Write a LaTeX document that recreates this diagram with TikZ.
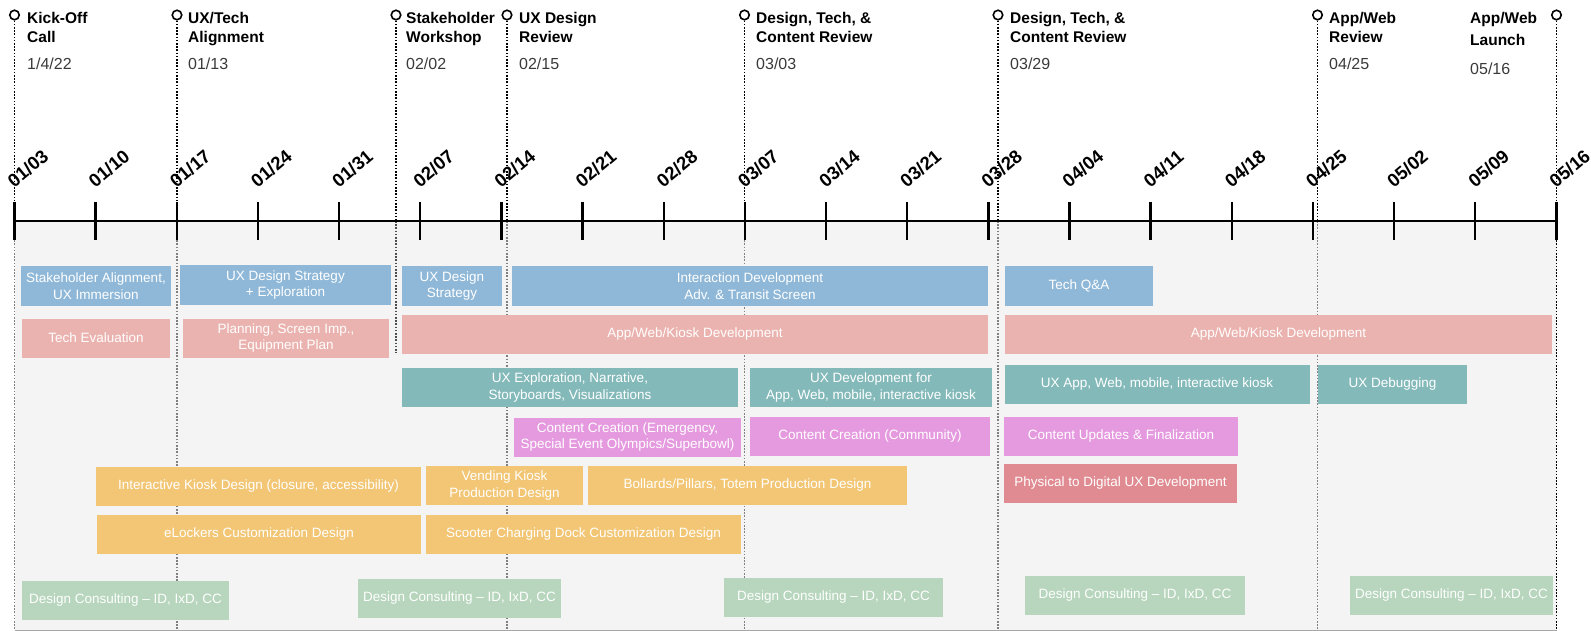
\documentclass[tikz,border=0pt]{standalone}
\usepackage{fontspec}
\setmainfont{Liberation Sans}

\definecolor{chartbg}{HTML}{F4F4F4}
\definecolor{uxblue}{HTML}{8FB8D8}
\definecolor{devsalmon}{HTML}{EBB3AF}
\definecolor{uxteal}{HTML}{84B9BA}
\definecolor{contentpink}{HTML}{E59ADF}
\definecolor{prodamber}{HTML}{F2C674}
\definecolor{physrose}{HTML}{E08A91}
\definecolor{consultsage}{HTML}{B7D6BD}
\definecolor{datecol}{HTML}{3A3A3A}

\tikzset{
  task/.style={fill=#1, text=white, align=center, inner sep=0pt, minimum height=39,
    font=\fontsize{13.5}{16.5}\selectfont},
  pin/.style={circle, draw=black, line width=1.6, fill=white, minimum size=9.5, inner sep=0pt},
  mtitle/.style={anchor=north west, align=left, inner sep=0pt,
    font=\fontsize{15.5}{19}\selectfont\bfseries},
  mdate/.style={anchor=base west, inner sep=0pt, text=datecol,
    font=\fontsize{16}{19}\selectfont},
  weeklabel/.style={anchor=south west, rotate=40, inner sep=0pt,
    font=\fontsize{18.5}{18.5}\selectfont\bfseries},
  dotline/.style={line width=1.6, dash pattern=on 1.6pt off 1.6pt},
}

\begin{document}
\begin{tikzpicture}[x=1pt, y=-1pt]
  \useasboundingbox (0,0) rectangle (1591,631);

  % chart area
  \fill[chartbg] (14.5,221) rectangle (1556.5,630);
  \draw[gray!70, line width=1] (14.5,630) -- (1556.5,630);

  % milestones
  \foreach \x/\n/\e/\c in {14.5/1/630/gray, 177/2/630/gray, 396/3/353/gray!60!black,
      507/4/630/gray, 744.5/5/630/gray, 998/6/630/gray, 1317.5/7/630/gray, 1556.5/8/631/black}{
    \node[pin] (m\n) at (\x,15) {};
    \coordinate (a\n) at (\x,221);
    \coordinate (b\n) at (\x,\e);
    \draw[dotline] (m\n) -- (a\n);
    \draw[dotline, \c] (a\n) -- (b\n);
  }
  \node[mtitle] (h1) at (27,12) {Kick-Off\\Call};
  \node[mdate] (d1) at (27,70) {1/4/22};
  \node[mtitle] (h2) at (188,12) {UX/Tech\\Alignment};
  \node[mdate] (d2) at (188,70) {01/13};
  \node[mtitle] (h3) at (406,12) {Stakeholder\\Workshop};
  \node[mdate] (d3) at (406,70) {02/02};
  \node[mtitle] (h4) at (519,12) {UX Design\\Review};
  \node[mdate] (d4) at (519,70) {02/15};
  \node[mtitle] (h5) at (756,12) {Design, Tech, \&\\Content Review};
  \node[mdate] (d5) at (756,70) {03/03};
  \node[mtitle] (h6) at (1010,12) {Design, Tech, \&\\Content Review};
  \node[mdate] (d6) at (1010,70) {03/29};
  \node[mtitle] (h7) at (1329,12) {App/Web\\Review};
  \node[mdate] (d7) at (1329,70) {04/25};
  \node[mtitle] (h8) at (1470,12) {App/Web\\[3pt]Launch};
  \node[mdate] (d8) at (1470,75) {05/16};

  % weeks
  \coordinate (ax0) at (14.5,221);
  \coordinate (ax1) at (1556.5,221);
  \draw[line width=2.6] (ax0) -- (ax1);
  \foreach \mo/\dy [count=\i from 0] in {01/03,01/10,01/17,01/24,01/31,02/07,02/14,02/21,02/28,
      03/07,03/14,03/21,03/28,04/04,04/11,04/18,04/25,05/02,05/09,05/16}{
    \draw[line width=2.4] ({14.5+81.15*\i},202) -- ({14.5+81.15*\i},240);
    \node[weeklabel] (w\i) at ({14.5+81.15*\i},189) {\mo/\dy};
  }

  % tasks
  \node[task=uxblue, minimum width=150] (sa) at (96,286) {Stakeholder Alignment,\\UX Immersion};
  \node[task=uxblue, minimum width=211] (uxs) at (285.5,285) {UX Design Strategy\\+ Exploration};
  \node[task=uxblue, minimum width=100] (uxs2) at (452,286) {UX Design\\Strategy};
  \node[task=uxblue, minimum width=476] (idev) at (750,286) {Interaction Development\\Adv. \& Transit Screen};
  \node[task=uxblue, minimum width=148] (tqa) at (1079,286) {Tech Q\&A};

  \node[task=devsalmon, minimum width=148] (tev) at (96,338) {Tech Evaluation};
  \node[task=devsalmon, minimum width=206] (plan) at (286,338) {Planning, Screen Imp.,\\Equipment Plan};
  \node[task=devsalmon, minimum width=586] (awk1) at (695,334) {App/Web/Kiosk Development};
  \node[task=devsalmon, minimum width=547] (awk2) at (1278.5,334) {App/Web/Kiosk Development};

  \node[task=uxteal, minimum width=336] (uxe) at (570,387.5) {UX Exploration, Narrative,\\Storyboards, Visualizations};
  \node[task=uxteal, minimum width=242] (uxd) at (871,387.5) {UX Development for\\App, Web, mobile, interactive kiosk};
  \node[task=uxteal, minimum width=305] (uxa) at (1157,384.5) {UX App, Web, mobile, interactive kiosk};
  \node[task=uxteal, minimum width=149] (uxdb) at (1392.5,384.5) {UX Debugging};

  \node[task=contentpink, minimum width=227] (cc1) at (627.5,437) {Content Creation (Emergency,\\Special Event Olympics/Superbowl)};
  \node[task=contentpink, minimum width=240] (cc2) at (870,436.5) {Content Creation (Community)};
  \node[task=contentpink, minimum width=234] (cu) at (1121,436.5) {Content Updates \& Finalization};

  \node[task=prodamber, minimum width=325] (ik) at (258.5,486) {Interactive Kiosk Design (closure, accessibility)};
  \node[task=prodamber, minimum width=157] (vk) at (504.5,485.5) {Vending Kiosk\\Production Design};
  \node[task=prodamber, minimum width=319] (bp) at (747.5,485.5) {Bollards/Pillars, Totem Production Design};
  \node[task=physrose, minimum width=233] (p2d) at (1120.5,483.5) {Physical to Digital UX Development};
  \node[task=prodamber, minimum width=324] (el) at (259,534.5) {eLockers Customization Design};
  \node[task=prodamber, minimum width=315] (sc) at (583.5,534.5) {Scooter Charging Dock Customization Design};

  \node[task=consultsage, minimum width=207] (dc1) at (125.5,600.5) {Design Consulting – ID, IxD, CC};
  \node[task=consultsage, minimum width=203] (dc2) at (459.5,598.5) {Design Consulting – ID, IxD, CC};
  \node[task=consultsage, minimum width=219] (dc3) at (833.5,597.5) {Design Consulting – ID, IxD, CC};
  \node[task=consultsage, minimum width=220] (dc4) at (1135,595.5) {Design Consulting – ID, IxD, CC};
  \node[task=consultsage, minimum width=203] (dc5) at (1451.5,595.5) {Design Consulting – ID, IxD, CC};
\end{tikzpicture}
\end{document}
